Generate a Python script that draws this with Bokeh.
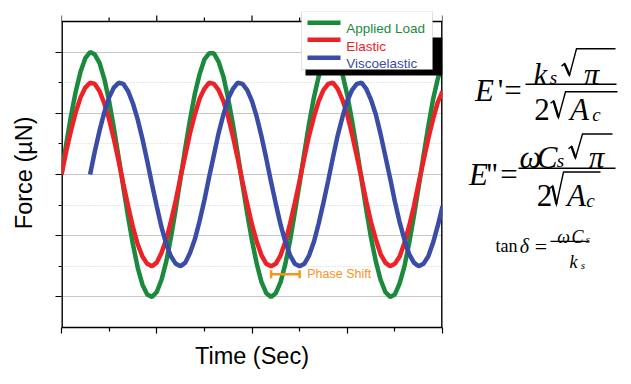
from bokeh.plotting import figure
from bokeh.models import Range1d, FixedTicker, BoxAnnotation, Label
from bokeh.layouts import row
from bokeh.core.properties import value
from bokeh.embed import file_html
from bokeh.resources import INLINE

# ---------------- data ----------------
time = [0.00, 0.05, 0.10, 0.15, 0.20, 0.25, 0.30, 0.35, 0.40, 0.45,
        0.50, 0.55, 0.60, 0.65, 0.70, 0.75, 0.80, 0.85, 0.90, 0.95,
        1.00, 1.05, 1.10, 1.15, 1.20, 1.25, 1.30, 1.35, 1.40, 1.45,
        1.50, 1.55, 1.60, 1.65, 1.70, 1.75, 1.80, 1.85, 1.90, 1.95,
        2.00, 2.05, 2.10, 2.15, 2.20, 2.25, 2.30, 2.35, 2.40, 2.45,
        2.50, 2.55, 2.60, 2.65, 2.70, 2.75, 2.80, 2.85, 2.90, 2.95,
        3.00, 3.05, 3.10, 3.15, 3.20, 3.25, 3.30, 3.35, 3.40, 3.45,
        3.50, 3.55, 3.60, 3.65, 3.70, 3.75, 3.80, 3.85, 3.90, 3.95,
        4.00]

applied_load = [0.00, 0.25, 0.48, 0.68, 0.84, 0.95, 1.00, 0.98, 0.91, 0.78,
                0.60, 0.38, 0.14, -0.11, -0.35, -0.57, -0.76, -0.90, -0.98, -1.00,
                -0.96, -0.86, -0.71, -0.51, -0.28, -0.03, 0.22, 0.45, 0.66, 0.82,
                0.94, 0.99, 0.99, 0.92, 0.80, 0.62, 0.41, 0.17, -0.08, -0.32,
                -0.54, -0.73, -0.88, -0.97, -1.00, -0.97, -0.88, -0.73, -0.54, -0.31,
                -0.07, 0.18, 0.42, 0.63, 0.80, 0.93, 0.99, 0.99, 0.93, 0.82,
                0.65, 0.44, 0.21, -0.04, -0.29, -0.52, -0.71, -0.86, -0.96, -1.00,
                -0.98, -0.89, -0.75, -0.56, -0.34, -0.10, 0.15, 0.39, 0.61, 0.78,
                0.91]

elastic = [0.00, 0.19, 0.36, 0.51, 0.63, 0.71, 0.75, 0.74, 0.68, 0.58,
           0.45, 0.29, 0.11, -0.08, -0.26, -0.43, -0.57, -0.67, -0.73, -0.75,
           -0.72, -0.64, -0.53, -0.38, -0.21, -0.02, 0.16, 0.34, 0.49, 0.62,
           0.70, 0.75, 0.74, 0.69, 0.60, 0.47, 0.31, 0.13, -0.06, -0.24,
           -0.41, -0.55, -0.66, -0.73, -0.75, -0.73, -0.66, -0.55, -0.40, -0.23,
           -0.05, 0.14, 0.32, 0.47, 0.60, 0.69, 0.74, 0.75, 0.70, 0.61,
           0.49, 0.33, 0.15, -0.03, -0.22, -0.39, -0.53, -0.65, -0.72, -0.75,
           -0.73, -0.67, -0.56, -0.42, -0.26, -0.07, 0.11, 0.29, 0.45, 0.59,
           0.68]

visco_time = time[6:]
viscoelastic = [0.00, 0.19, 0.36, 0.51, 0.63, 0.71, 0.75, 0.74, 0.68, 0.58,
                0.45, 0.29, 0.11, -0.08, -0.26, -0.43, -0.57, -0.67, -0.73, -0.75,
                -0.72, -0.64, -0.53, -0.38, -0.21, -0.02, 0.16, 0.34, 0.49, 0.62,
                0.70, 0.75, 0.74, 0.69, 0.60, 0.47, 0.31, 0.13, -0.06, -0.24,
                -0.41, -0.55, -0.66, -0.73, -0.75, -0.73, -0.66, -0.55, -0.40, -0.23,
                -0.05, 0.14, 0.32, 0.47, 0.60, 0.69, 0.74, 0.75, 0.70, 0.61,
                0.49, 0.33, 0.15, -0.03, -0.22, -0.39, -0.53, -0.65, -0.72, -0.75,
                -0.73, -0.67, -0.56, -0.42, -0.26]

series_names = ["Applied Load", "Elastic", "Viscoelastic"]
series_colors = ["#1b8a3d", "#ec2227", "#3a4ca6"]

phase_shift_x = [2.20, 2.50]      # elastic trough -> viscoelastic trough
phase_shift_y = -0.815
phase_label = "Phase Shift"
phase_color = "#f7941d"

x_major = [0, 1, 2, 3, 4]
x_minor = [0.5, 1.5, 2.5, 3.5]
y_major = [-1, -0.5, 0, 0.5, 1]
y_minor = [-0.75, -0.25, 0.25, 0.75]
x_lo, x_hi = 0, 4
y_lo, y_hi = -1.25, 1.25

SANS = "Liberation Sans"
SERIF = "Liberation Serif"

# ---------------- main chart ----------------
# the frame reaches 10 px above the plot box so that the legend (which
# overlaps the box's top edge) is not clipped; the box edges are drawn here.
PX = 306 / (y_hi - y_lo)            # pixels per y unit
p = figure(frame_width=381, frame_height=316,
           min_border_left=61, min_border_right=8, min_border_top=11, min_border_bottom=55,
           x_range=Range1d(x_lo, x_hi), y_range=Range1d(y_lo, y_hi + 10 / PX),
           toolbar_location=None, output_backend="svg",
           x_axis_label="Time (Sec)", y_axis_label="Force (µN)\u00a0")
p.background_fill_color = "white"
p.border_fill_color = "white"
p.outline_line_color = None

xt = FixedTicker(ticks=x_major, minor_ticks=x_minor)
yt = FixedTicker(ticks=y_major, minor_ticks=y_minor)

bottom_axis = p.below[0]
left_axis = p.left[0]
for ax, tk in ((bottom_axis, xt), (left_axis, yt)):
    ax.ticker = tk
    ax.major_label_text_font_size = "0px"
    ax.major_label_text_color = None
    ax.major_label_text_alpha = 0
    ax.major_label_standoff = 0
    ax.axis_line_color = "black"
    ax.axis_line_width = 1.5
    ax.major_tick_line_color = "black"
    ax.minor_tick_line_color = "black"
    ax.major_tick_line_width = 1.2
    ax.minor_tick_line_width = 1.2
    ax.major_tick_in = 0
    ax.minor_tick_in = 0
    ax.major_tick_out = 6
    ax.minor_tick_out = 4
    ax.axis_label_text_font = SANS
    ax.axis_label_text_font_style = "normal"
    ax.axis_label_text_font_size = "23.5px"
    ax.axis_label_text_color = "black"
left_axis.minor_tick_out = 3
left_axis.axis_line_color = None
bottom_axis.axis_label_standoff = 9
left_axis.axis_label_standoff = 19

p.xgrid.grid_line_color = None
p.ygrid.ticker = yt
p.ygrid.grid_line_color = "#c8c8c8"
p.ygrid.grid_line_width = 1.2
p.ygrid.minor_grid_line_color = "#cfcfcf"
p.ygrid.minor_grid_line_width = 1.2
p.ygrid.minor_grid_line_dash = "1 2"

# plot box edges (left / right lie on the frame edge, so half of the width shows)
p.segment(x0=[x_lo, x_hi], y0=[y_lo, y_lo], x1=[x_lo, x_hi], y1=[y_hi, y_hi],
          line_color="black", line_width=2.8)
p.segment(x0=[x_lo], y0=[y_hi], x1=[x_hi], y1=[y_hi], line_color="black", line_width=1.5)
# mirrored ticks on the top edge
p.segment(x0=x_major, y0=[y_hi] * len(x_major), x1=x_major, y1=[y_hi + 6 / PX] * len(x_major),
          line_color="black", line_width=1.2)
p.segment(x0=x_minor, y0=[y_hi] * len(x_minor), x1=x_minor, y1=[y_hi + 4 / PX] * len(x_minor),
          line_color="black", line_width=1.2)

p.line(time, applied_load, line_color=series_colors[0], line_width=4.5)
p.line(time, elastic, line_color=series_colors[1], line_width=4.5)
p.line(visco_time, viscoelastic, line_color=series_colors[2], line_width=4.5)

# phase shift marker
p.segment(x0=[phase_shift_x[0]], y0=[phase_shift_y], x1=[phase_shift_x[1]], y1=[phase_shift_y],
          line_color=phase_color, line_width=2.5)
p.segment(x0=phase_shift_x, y0=[phase_shift_y - 0.032] * 2, x1=phase_shift_x,
          y1=[phase_shift_y + 0.032] * 2, line_color=phase_color, line_width=2.5)
p.text(x=[phase_shift_x[1] + 0.08], y=[phase_shift_y], text=[phase_label],
       text_baseline="middle", text_align="left", text_font=value(SANS),
       text_font_size="12.5px", text_color=phase_color)

# legend (screen units: from frame left / frame bottom)
def sbox(l, r, t, b, **kw):
    return BoxAnnotation(left=l, right=r, top=t, bottom=b,
                         left_units="screen", right_units="screen",
                         top_units="screen", bottom_units="screen", **kw)

p.add_layout(sbox(244, 381, 290, 252, fill_color="black", fill_alpha=1, line_color=None))
p.add_layout(sbox(240, 371, 316, 258, fill_color="white", fill_alpha=1,
                  line_color="#9a9a9a", line_width=1))
row_y = [304.7, 287.7, 269.7]
txt_y = [299.5, 281.5, 264.0]
for name, col, ly, ty in zip(series_names, series_colors, row_y, txt_y):
    p.add_layout(sbox(246, 279, ly + 2.2, ly - 2.2, fill_color=col, fill_alpha=1, line_color=None))
    p.add_layout(Label(x=284.7, y=ty, x_units="screen", y_units="screen", text=name,
                       text_font=SANS, text_font_size="13.5px", text_color=col,
                       text_baseline="alphabetic", text_align="left"))

# ---------------- equations panel (coordinates = page pixels) ----------------
q = figure(width=181, height=382, x_range=Range1d(450, 631), y_range=Range1d(382, 0),
           toolbar_location=None, output_backend="svg", x_axis_type=None, y_axis_type=None,
           min_border=0)
q.outline_line_color = None
q.grid.visible = False
q.background_fill_color = "white"
q.border_fill_color = "white"


def t(x, y, s, size, italic=True):
    q.text(x=[x], y=[y], text=[s], text_font=value(SERIF), text_font_size=f"{size}px",
           text_font_style="italic" if italic else "normal", text_baseline="alphabetic",
           text_align="center", text_color="black")


def hline(x0, x1, y, w=1.5):
    q.line([x0, x1], [y, y], line_color="black", line_width=w)


def radical(pts):
    xs = [a for a, _ in pts]
    ys = [b for _, b in pts]
    q.line(xs, ys, line_color="black", line_width=1.4, line_join="miter")
    q.line(xs[1:3], ys[1:3], line_color="black", line_width=2.4)


# E' = k_s sqrt(pi) / (2 sqrt(A_c))
t(484, 96, "E", 31); t(500, 96, "'", 31, False); t(512.5, 96, "=", 31, False)
hline(525, 616, 88)
t(540, 76, "k", 31); t(553, 80, "s", 19)
radical([(561, 66), (564, 63), (569, 77), (576, 45), (615, 45)])
t(591, 76, "π", 31)
t(541.5, 119, "2", 31, False)
radical([(550, 111), (553, 108), (558, 128), (565, 97), (617, 97)])
t(579, 119, "A", 31); t(596, 125, "c", 19)

# E'' = omega C_s sqrt(pi) / (2 sqrt(A_c))
t(478, 197.5, "E", 31); t(491.5, 197.5, "''", 31, False); t(508.5, 197.5, "=", 31, False)
hline(518, 615, 189.5)
t(530, 176, "ω", 31); t(546.5, 176, "C", 31); t(560, 180, "s", 19)
radical([(568, 166), (571, 163), (575, 177), (582, 148), (612, 148)])
t(596, 176, "π", 31)
t(544, 223, "2", 31, False)
radical([(549, 214), (552, 211), (556, 233), (563, 194), (600, 194)])
t(576, 223, "A", 31); t(590, 229, "c", 19)

# tan delta = omega C_s / k_s
t(506, 283, "tan", 18, False); t(524, 283, "δ", 20); t(540.5, 284, "=", 22, False)
hline(550, 588, 278, 1.2)
t(563, 272, "ω", 18); t(577, 272, "C", 18); t(587.5, 275, "s", 11)
t(573, 303, "k", 18); t(582.5, 306, "s", 11)

layout = row(p, q)
open("out.html", "w").write(file_html(layout, INLINE))
